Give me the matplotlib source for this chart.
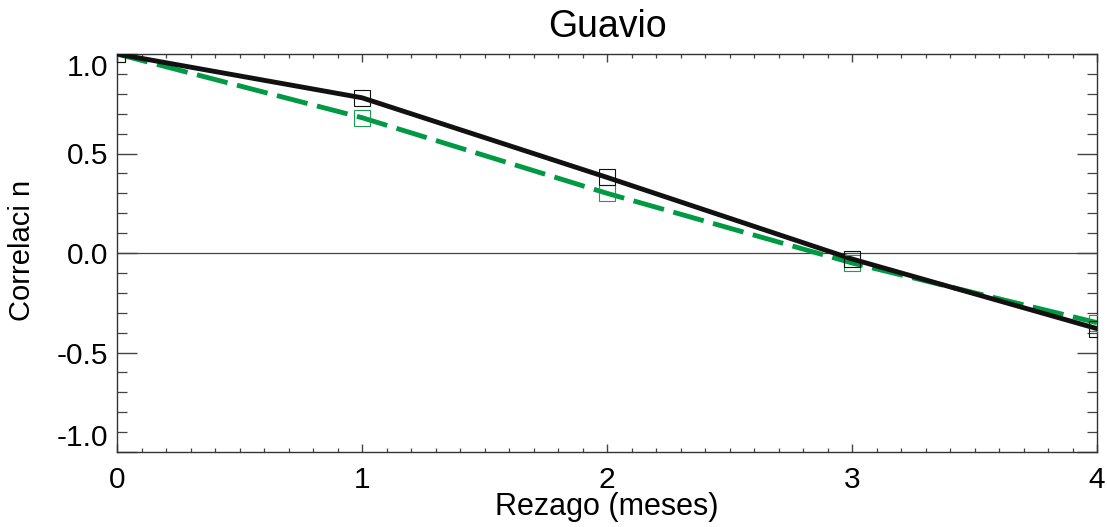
import matplotlib.pyplot as plt
from matplotlib.ticker import MultipleLocator

plt.rcParams['font.family'] = ['Liberation Sans', 'DejaVu Sans']

lags = [0, 1, 2, 3, 4]
corr_black = [1.0, 0.78, 0.38, -0.03, -0.38]
corr_green = [1.0, 0.68, 0.30, -0.05, -0.35]
yticks = [-1.0, -0.5, 0.0, 0.5, 1.0]
ytick_labels = ['-1.0', '-0.5', '0.0', '0.5', '1.0']

fig = plt.figure(figsize=(11.07, 5.27), dpi=100)
ax = fig.add_axes([117/1107, 1 - 452/527, 980/1107, 398/527])

ax.axhline(0, color='#444444', lw=0.9, zorder=1)

ax.plot(lags, corr_green, color='#009a44', lw=3.5, dashes=(6.5, 2), zorder=3)
ax.plot(lags, corr_green, ls='none', marker='s', ms=11.5, mfc='none',
        mec='#1a9f50', mew=0.8, zorder=4)
ax.plot(lags, corr_black, color='#111111', lw=3.5, zorder=3)
ax.plot(lags, corr_black, ls='none', marker='s', ms=11.5, mfc='none',
        mec='#111111', mew=0.8, zorder=4)

ax.set_xlim(0, 4)
ax.set_ylim(-1.0, 1.0)
ax.set_xticks(lags)
ax.set_yticks(yticks)
ax.set_yticklabels(ytick_labels)
ax.xaxis.set_minor_locator(MultipleLocator(0.1))
ax.yaxis.set_minor_locator(MultipleLocator(0.1))

ax.tick_params(axis='both', which='both', direction='in', top=True, right=True,
               color='#444444', labelsize=21.5, pad=6.5)
ax.tick_params(axis='x', which='major', length=5.8, width=1.0, pad=10)
ax.tick_params(axis='x', which='minor', length=2.9, width=0.9)
ax.tick_params(axis='y', which='major', length=14.4, width=1.0)
ax.tick_params(axis='y', which='minor', length=7.2, width=0.9)

labs = ax.get_yticklabels()
labs[0].set_va('bottom')
labs[-1].set_va('top')

for s in ax.spines.values():
    s.set_color('#333333')
    s.set_linewidth(1.0)

ax.set_title('Guavio', fontsize=27, pad=12)
ax.set_xlabel('Rezago (meses)', fontsize=22, labelpad=-1)
fig.text(22/1107, 1 - 250/527, 'Correlaci n', rotation=90, fontsize=21,
         ha='center', va='center')

fig.savefig('out.png', dpi=100)
